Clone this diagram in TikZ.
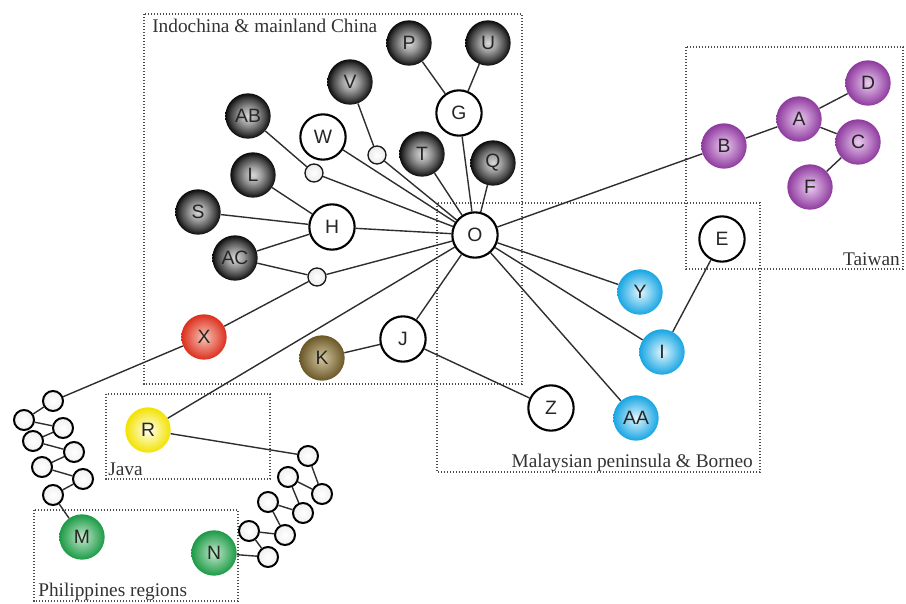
\documentclass[tikz,border=0pt]{standalone}
\usepackage{fontspec}
\setmainfont{Liberation Serif}
\newfontfamily\ballfont{Liberation Sans}
\usetikzlibrary{positioning}
\definecolor{wireGray}{HTML}{2E2E2E}
\definecolor{purpRim}{HTML}{8E3A9E}
\definecolor{purpCore}{HTML}{EBCBF0}
\definecolor{blueRim}{HTML}{17A5E2}
\definecolor{blueCore}{HTML}{E2F6FE}
\definecolor{redRim}{HTML}{DC2F1D}
\definecolor{redCore}{HTML}{F7C6B8}
\definecolor{yellowRim}{HTML}{F3E200}
\definecolor{yellowCore}{HTML}{FFFFF2}
\definecolor{greenRim}{HTML}{1B9A46}
\definecolor{greenCore}{HTML}{C3E8CB}
\definecolor{brownRim}{HTML}{6B5727}
\definecolor{brownCore}{HTML}{D3C7A2}
\pgfdeclareradialshading{darksphere}{\pgfpoint{0bp}{0bp}}{color(0bp)=(black!15); color(9bp)=(black!38); color(19bp)=(black!72); color(25bp)=(black!96); color(50bp)=(black!96)}

\begin{document}
\begin{tikzpicture}[x=0.75pt, y=-0.75pt,
          ball/.style={circle, minimum size=34pt, inner sep=0pt, text=black!85, font=\ballfont\fontsize{14.5}{17}\selectfont},
          darkball/.style={ball, shading=darksphere},
          openball/.style={ball, draw=black, line width=1.6pt, fill=white},
          purpball/.style={ball, inner color=purpCore, outer color=purpRim},
          blueball/.style={ball, inner color=blueCore, outer color=blueRim},
          redball/.style={ball, inner color=redCore, outer color=redRim},
          yellowball/.style={ball, inner color=yellowCore, outer color=yellowRim},
          greenball/.style={ball, inner color=greenCore, outer color=greenRim},
          brownball/.style={ball, inner color=brownCore, outer color=brownRim},
          joint/.style={circle, minimum size=13.5pt, inner sep=0pt, draw=black!90, line width=1pt, inner color=white, outer color=black!8},
          chainball/.style={circle, minimum size=15pt, inner sep=0pt, draw=black, line width=1.5pt, inner color=white, outer color=black!6},
          region/.style={draw=black!70, line width=0.9pt, dash pattern=on 0.9pt off 1.35pt},
          regionlab/.style={inner sep=0pt, text=black!80, font=\fontsize{14.5}{17}\selectfont},
          wire/.style={draw=wireGray, line width=1.05pt}]
        \useasboundingbox (0,0) rectangle (906,603);
        % regions
        \draw[region] (144,14) rectangle (522,384);
        \draw[region] (437,203) rectangle (760,472);
        \draw[region] (686,47) rectangle (903,269);
        \draw[region] (106,394) rectangle (270,479);
        \draw[region] (34,510) rectangle (238,601);
        \node[regionlab, anchor=base west] (labIndo) at (152,32) {Indochina \& mainland China};
        \node[regionlab, anchor=base east] (labMalay) at (753,467) {Malaysian peninsula \& Borneo};
        \node[regionlab, anchor=base east] (labTaiwan) at (900,265) {Taiwan};
        \node[regionlab, anchor=base west] (labJava) at (108,475) {Java};
        \node[regionlab, anchor=base west] (labPhil) at (38,596) {Philippines regions};
        % haplotypes
        \node[darkball] (P) at (409,43) {P};
        \node[darkball] (U) at (488,43) {U};
        \node[openball] (G) at (459,113) {G};
        \node[darkball] (V) at (350,82) {V};
        \node[darkball] (AB) at (248,116) {AB};
        \node[openball] (W) at (323,137) {W};
        \node[joint] (jV) at (377,155) {};
        \node[darkball] (T) at (422,154) {T};
        \node[darkball] (Q) at (493,163) {Q};
        \node[joint] (jAB) at (314,173) {};
        \node[darkball] (L) at (253,175) {L};
        \node[darkball] (S) at (198,212) {S};
        \node[openball] (H) at (332,227) {H};
        \node[openball] (O) at (475,235) {O};
        \node[darkball] (AC) at (235,258) {AC};
        \node[joint] (jAC) at (317,277) {};
        \node[redball] (X) at (204,337) {X};
        \node[brownball] (K) at (322,358) {K};
        \node[openball] (J) at (403,339) {J};
        \node[openball] (Z) at (551,408) {Z};
        \node[blueball] (Y) at (640,292) {Y};
        \node[blueball] (I) at (662,352) {I};
        \node[blueball] (AA) at (636,418) {AA};
        \node[openball] (E) at (722,239) {E};
        \node[purpball] (B) at (724,146) {B};
        \node[purpball] (A) at (799,119) {A};
        \node[purpball] (D) at (868,83) {D};
        \node[purpball] (C) at (858,142) {C};
        \node[purpball] (F) at (810,187) {F};
        \node[yellowball] (R) at (148,430) {R};
        \node[greenball] (M) at (82,537) {M};
        \node[greenball] (N) at (214,553) {N};
        % missing steps
        \foreach \p [count=\i] in {(53,401),(24,420),(63,428),(33,441),(74,452),(42,467),(83,479),(53,495)}
          \node[chainball] (l\i) at \p {};
        \foreach \p [count=\i] in {(308,456),(322,494),(288,477),(303,513),(268,502),(285,535),(249,531),(268,557)}
          \node[chainball] (r\i) at \p {};
        \foreach \a/\b in {1/2,2/3,3/4,4/5,5/6,6/7,7/8} {\draw[wire] (l\a) -- (l\b); \draw[wire] (r\a) -- (r\b);}
        \draw[wire] (X) -- (l1); \draw[wire] (l8) -- (M);
        \draw[wire] (R) -- (r1); \draw[wire] (r8) -- (N);
        \draw[wire] (G) -- (P); \draw[wire] (G) -- (U); \draw[wire] (G) -- (O);
        \draw[wire] (V) -- (jV); \draw[wire] (jV) -- (O);
        \draw[wire] (AB) -- (jAB); \draw[wire] (jAB) -- (O);
        \draw[wire] (W) -- (O); \draw[wire] (T) -- (O); \draw[wire] (Q) -- (O);
        \draw[wire] (L) -- (H); \draw[wire] (S) -- (H); \draw[wire] (AC) -- (H); \draw[wire] (H) -- (O);
        \draw[wire] (AC) -- (jAC); \draw[wire] (jAC) -- (O); \draw[wire] (X) -- (jAC);
        \draw[wire] (O) -- (R);
        \draw[wire] (K) -- (J); \draw[wire] (J) -- (O); \draw[wire] (J) -- (Z);
        \draw[wire] (O) -- (Y); \draw[wire] (O) -- (I); \draw[wire] (O) -- (AA); \draw[wire] (E) -- (I);
        \draw[wire] (O) -- (B); \draw[wire] (B) -- (A); \draw[wire] (A) -- (D); \draw[wire] (A) -- (C); \draw[wire] (C) -- (F);
      \end{tikzpicture}
\end{document}
